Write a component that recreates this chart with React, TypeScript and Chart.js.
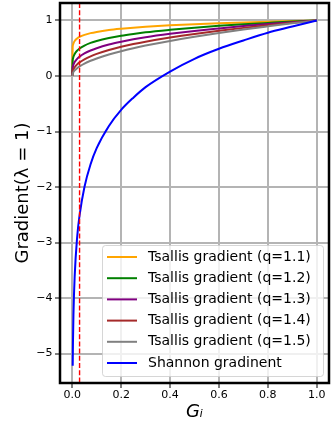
import React, { useEffect, useRef } from "react";
import { Chart, registerables } from "chart.js";

Chart.register(...registerables);

const xs = [0, 0.002, 0.003, 0.005, 0.01, 0.02, 0.03, 0.05, 0.075, 0.1, 0.15, 0.2, 0.25, 0.3, 0.4, 0.5, 0.6, 0.7, 0.8, 0.9, 1.0];
const q11 = [0, 0.537, 0.559, 0.589, 0.631, 0.676, 0.704, 0.741, 0.772, 0.794, 0.827, 0.851, 0.871, 0.887, 0.912, 0.933, 0.95, 0.965, 0.978, 0.99, 1];
const q12 = [0, 0.288, 0.312, 0.347, 0.398, 0.457, 0.496, 0.549, 0.596, 0.631, 0.684, 0.725, 0.758, 0.787, 0.832, 0.871, 0.903, 0.931, 0.956, 0.98, 1];
const q13 = [0, 0.155, 0.175, 0.204, 0.251, 0.309, 0.349, 0.407, 0.46, 0.501, 0.566, 0.617, 0.661, 0.698, 0.759, 0.812, 0.857, 0.899, 0.935, 0.97, 1];
const q14 = [0, 0.083, 0.097, 0.12, 0.158, 0.209, 0.246, 0.301, 0.355, 0.398, 0.468, 0.526, 0.575, 0.618, 0.693, 0.758, 0.815, 0.867, 0.914, 0.959, 1];
const q15 = [0, 0.045, 0.055, 0.071, 0.1, 0.141, 0.173, 0.224, 0.274, 0.316, 0.387, 0.447, 0.5, 0.548, 0.632, 0.707, 0.775, 0.837, 0.894, 0.949, 1];
const shannon = [null, -5.22, -4.81, -4.3, -3.61, -2.91, -2.51, -2.0, -1.59, -1.3, -0.9, -0.61, -0.39, -0.2, 0.08, 0.31, 0.49, 0.64, 0.78, 0.89, 1];

const seriesLabels = [
  "Tsallis gradient (q=1.1)",
  "Tsallis gradient (q=1.2)",
  "Tsallis gradient (q=1.3)",
  "Tsallis gradient (q=1.4)",
  "Tsallis gradient (q=1.5)",
  "Shannon gradinent",
];
const seriesValues = [q11, q12, q13, q14, q15, shannon];
const seriesColors = ["#FFA500", "#008000", "#800080", "#A52A2A", "#808080", "#0000FF"];

const xTicks = [0, 0.2, 0.4, 0.6, 0.8, 1.0];
const yTicks = [-5, -4, -3, -2, -1, 0, 1];
const xMin = -0.05, xMax = 1.05, yMin = -5.53, yMax = 1.315;
const markerX = 0.03;

const FONT = "'DejaVu Sans', sans-serif";

const overlayPlugin = {
  id: "overlay",
  afterDatasetsDraw(chart: any) {
    const { ctx, chartArea: a, scales } = chart;
    // red dashed vertical line
    const px = scales.x.getPixelForValue(markerX);
    ctx.save();
    ctx.strokeStyle = "#FF0000";
    ctx.lineWidth = 1.4;
    ctx.setLineDash([5, 2.2]);
    ctx.beginPath();
    ctx.moveTo(px, a.top);
    ctx.lineTo(px, a.bottom);
    ctx.stroke();
    ctx.setLineDash([]);
    // frame
    ctx.strokeStyle = "#000";
    ctx.lineWidth = 2.5;
    ctx.strokeRect(a.left, a.top, a.right - a.left, a.bottom - a.top);
    // legend
    const lx = a.left + 42, ly = 245, lw = a.right - 6 - lx, lh = 131;
    ctx.fillStyle = "rgba(255,255,255,0.8)";
    ctx.strokeStyle = "rgba(204,204,204,0.8)";
    ctx.lineWidth = 1;
    ctx.beginPath();
    if (ctx.roundRect) ctx.roundRect(lx + 0.5, ly + 0.5, lw, lh, 3);
    else ctx.rect(lx + 0.5, ly + 0.5, lw, lh);
    ctx.fill();
    ctx.stroke();
    ctx.font = "14px " + FONT;
    ctx.textBaseline = "middle";
    ctx.textAlign = "left";
    for (let i = 0; i < seriesLabels.length; i++) {
      const y = ly + 12 + i * 21.2;
      ctx.strokeStyle = seriesColors[i];
      ctx.lineWidth = 2;
      ctx.beginPath();
      ctx.moveTo(lx + 5, y);
      ctx.lineTo(lx + 35, y);
      ctx.stroke();
      ctx.fillStyle = "#000";
      ctx.fillText(seriesLabels[i], lx + 46, y);
    }
    ctx.restore();
  },
};

export default function App() {
  const ref = useRef<HTMLCanvasElement | null>(null);
  useEffect(() => {
    if (!ref.current) return;
    const datasets = seriesValues.map((vals, i) => ({
      label: seriesLabels[i],
      data: xs.map((x, j) => ({ x, y: vals[j] })),
      borderColor: seriesColors[i],
      backgroundColor: seriesColors[i],
      borderWidth: 2,
      pointRadius: 0,
      fill: false,
      cubicInterpolationMode: "monotone" as const,
      order: 10 - i,
    }));
    const chart = new Chart(ref.current, {
      type: "line",
      data: { datasets },
      plugins: [overlayPlugin],
      options: {
        animation: false,
        responsive: false,
        devicePixelRatio: 1,
        layout: { padding: { top: 3, right: 2, left: 0, bottom: 0 } },
        plugins: { legend: { display: false }, tooltip: { enabled: false } },
        scales: {
          x: {
            type: "linear",
            min: xMin,
            max: xMax,
            afterBuildTicks: (s: any) => { s.ticks = xTicks.map((v) => ({ value: v })); },
            afterFit: (s: any) => { s.height = 40; s.paddingLeft = 0; s.paddingRight = 0; },
            ticks: {
              callback: (v: any) => Number(v).toFixed(1),
              font: { family: FONT, size: 11 },
              color: "#000",
              padding: 1,
              maxRotation: 0,
            },
            grid: { color: "#b4b4b4", lineWidth: 2, tickLength: 5, tickColor: "#000", tickWidth: 1 },
            border: { display: false },
            title: {
              display: true,
              text: "Gᵢ",
              font: { family: FONT, size: 18, style: "italic" },
              color: "#000",
              padding: { top: 0, bottom: 0 },
            },
          },
          y: {
            type: "linear",
            min: yMin,
            max: yMax,
            afterBuildTicks: (s: any) => { s.ticks = yTicks.map((v) => ({ value: v })); },
            afterFit: (s: any) => { s.width = 60; s.paddingTop = 0; s.paddingBottom = 0; },
            ticks: {
              callback: (v: any) => (Number(v) < 0 ? "−" + Math.abs(Number(v)) : String(v)),
              font: { family: FONT, size: 11 },
              color: "#000",
              padding: 2.5,
            },
            grid: { color: "#b4b4b4", lineWidth: 2, tickLength: 5, tickColor: "#000", tickWidth: 1 },
            border: { display: false },
            title: {
              display: true,
              text: "Gradient(λ = 1)",
              font: { family: FONT, size: 18 },
              color: "#000",
              padding: { top: 13, bottom: 0 },
            },
          },
        },
      },
    });
    return () => chart.destroy();
  }, []);
  return (
    <div style={{ position: "fixed", left: 0, top: 0, width: 331, height: 423, background: "#fff" }}>
      <canvas ref={ref} width={331} height={423} style={{ display: "block" }} />
    </div>
  );
}
